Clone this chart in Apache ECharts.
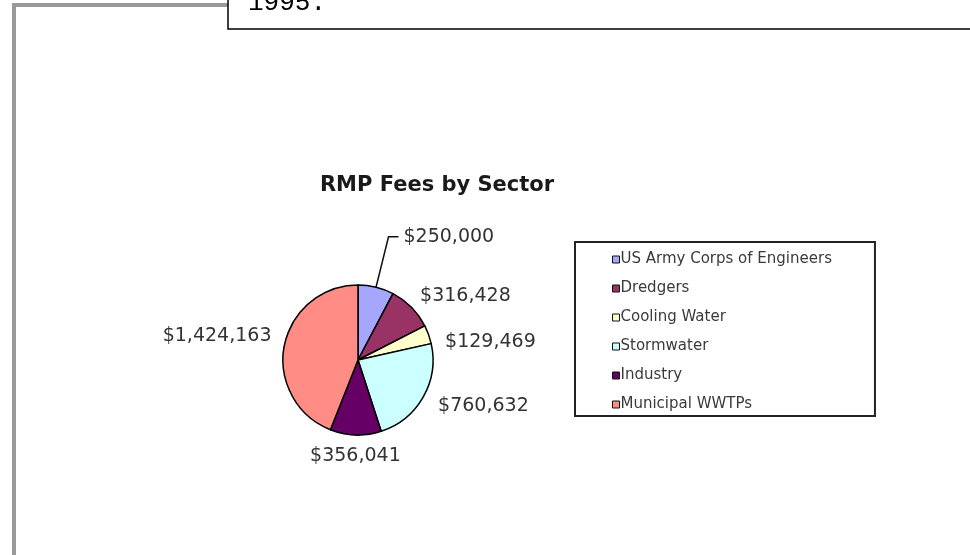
<!DOCTYPE html>
<html>
<head>
<meta charset="utf-8">
<script src="https://cdn.jsdelivr.net/npm/echarts@6/dist/echarts.min.js"></script>
<style>
html, body { margin: 0; padding: 0; background: #fff; }
#main { width: 970px; height: 555px; }
</style>
</head>
<body>
<div id="main"></div>
<script>
var chartDom = document.getElementById("main");
var myChart = echarts.init(chartDom, null, {renderer: 'canvas'});

// 数据
var sectors = ['US Army Corps of Engineers', 'Dredgers', 'Cooling Water', 'Stormwater', 'Industry', 'Municipal WWTPs'];
var fees = [250000, 316428, 129469, 760632, 356041, 1424163];
var colors = ['#a6a6ff', '#993366', '#ffffcc', '#ccffff', '#660066', '#ff8c85'];

var fontName = 'DejaVu Sans';

// 金额格式
function money(v) {
    return '$' + v.toString().replace(/\B(?=(\d{3})+(?!\d))/g, ',');
}

function getPieData() {
    var data = [];
    for (var i = 0; i < sectors.length; i++) {
        var item = {
            name: sectors[i],
            value: fees[i],
            itemStyle: {color: colors[i]}
        };
        if (i === 0) { // 第一块有引线
            item.labelLine = {show: true, length: 52, length2: 10};
        }
        data.push(item);
    }
    return data;
}

// 标签微调（原图的标签是手动拖过的）
function nudgeLabel(params) {
    var shift = {
        1: [-2, -6],
        2: [4, 10],
        3: [3, 5],
        4: [params.labelRect.width / 2 + 5, 13],
        5: [0, -8]
    }[params.dataIndex];
    if (shift) {
        return {dx: shift[0], dy: shift[1]};
    }
}

var option = {
    animation: false,
    backgroundColor: '#fff',
    title: {
        text: 'RMP Fees by Sector',
        left: 432,
        top: 170,
        textAlign: 'center',
        textStyle: {
            fontFamily: fontName,
            fontSize: 21,
            fontWeight: 'bold',
            color: '#1a1a1a'
        }
    },
    legend: {
        orient: 'vertical',
        left: 575,
        top: 242,
        padding: [10, 43, 4, 37],
        itemGap: 14,
        itemWidth: 7,
        itemHeight: 7,
        icon: 'rect',
        borderColor: '#222',
        borderWidth: 2,
        backgroundColor: '#fff',
        itemStyle: {borderColor: '#111', borderWidth: 1},
        textStyle: {
            fontFamily: fontName,
            fontSize: 15,
            color: '#3a3a3a',
            padding: [0, 0, 0, -4]
        },
        data: sectors
    },
    graphic: [
        // 左侧灰色边框
        {type: 'rect', shape: {x: 12, y: 3, width: 4, height: 560}, style: {fill: '#999'}, silent: true},
        {type: 'rect', shape: {x: 12, y: 3, width: 218, height: 4}, style: {fill: '#999'}, silent: true},
        // 上方文本框
        {type: 'rect', shape: {x: 228, y: -20, width: 760, height: 49}, style: {fill: '#fff', stroke: '#000', lineWidth: 1.5}, silent: true},
        {type: 'text', x: 248, y: 3, style: {text: '1995.', font: '26px "Liberation Mono"', fill: '#000', verticalAlign: 'middle'}, silent: true}
    ],
    series: [{
        type: 'pie',
        center: [358, 360],
        radius: 75,
        startAngle: 90,
        clockwise: true,
        avoidLabelOverlap: false,
        itemStyle: {
            borderColor: '#000',
            borderWidth: 1.5
        },
        label: {
            show: true,
            position: 'outside',
            formatter: function (p) { return money(p.value); },
            fontFamily: fontName,
            fontSize: 19,
            color: '#333'
        },
        labelLine: {
            show: false,
            length: 8,
            length2: 0,
            lineStyle: {color: '#111', width: 1.5}
        },
        labelLayout: nudgeLabel,
        emphasis: {disabled: true},
        data: getPieData()
    }]
};

myChart.setOption(option);
</script>
</body>
</html>
